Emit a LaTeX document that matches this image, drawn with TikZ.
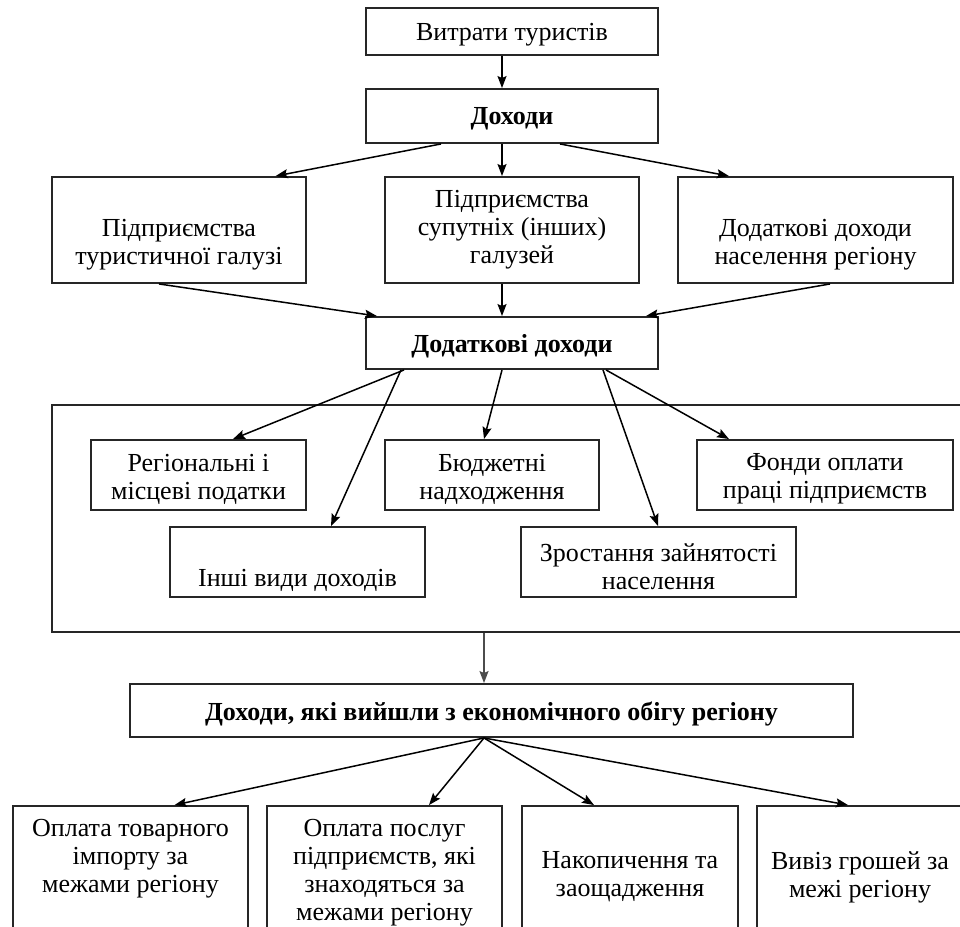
\documentclass[tikz,border=0pt]{standalone}
\usepackage{fontspec}
\setmainfont{Liberation Serif}
\usetikzlibrary{arrows.meta}
\begin{document}
\begin{tikzpicture}[x=1pt,y=-1pt,
  box/.style={draw=black!85, line width=1.9pt, inner sep=0pt, fill=none},
  txt/.style={align=center, inner sep=0pt, yshift=-3pt, font=\fontsize{26}{28}\selectfont},
  btxt/.style={txt, font=\fontsize{26}{28}\selectfont\bfseries},
  arr/.style={draw=black, line width=1.5pt, -{Stealth[length=12pt,width=9pt,inset=2pt]}}]
\clip (0,0) rectangle (960,926);
\fill[white] (0,0) rectangle (960,926);
% row 1-2
\node[box, minimum width=292pt, minimum height=47pt] (b1) at (512,31.5) {};
\node[txt] (b1t) at (512,31.5) {Витрати туристів};
\node[box, minimum width=292pt, minimum height=54pt] (b2) at (512,116) {};
\node[btxt] (b2t) at (512,116) {Доходи};
% row 3
\node[box, minimum width=254pt, minimum height=106pt] (r3a) at (179,230) {};
\node[txt] (r3at) at (179,242) {Підприємства\\туристичної галузі};
\node[box, minimum width=254pt, minimum height=106pt] (r3b) at (512,230) {};
\node[txt] (r3bt) at (512,227) {Підприємства\\супутніх (інших)\\галузей};
\node[box, minimum width=275pt, minimum height=106pt] (r3c) at (815.5,230) {};
\node[txt] (r3ct) at (815.5,242) {Додаткові доходи\\населення регіону};
% row 4
\node[box, minimum width=292pt, minimum height=52pt] (b4) at (512,343) {};
\node[btxt] (b4t) at (512,343) {Додаткові доходи};
% outer frame
\node[box, minimum width=923pt, minimum height=227pt] (outer) at (513.5,518.5) {};
\node[box, minimum width=215pt, minimum height=70pt] (reg) at (198.5,475) {};
\node[txt] (regt) at (198.5,476) {Регіональні і\\місцеві податки};
\node[box, minimum width=214pt, minimum height=70pt] (bud) at (492,475) {};
\node[txt] (budt) at (492,476) {Бюджетні\\надходження};
\node[box, minimum width=256pt, minimum height=70pt] (fon) at (825,475) {};
\node[txt] (font) at (825,476) {Фонди оплати\\праці підприємств};
\node[box, minimum width=255pt, minimum height=70pt] (inshi) at (297.5,562) {};
\node[txt] (inshit) at (297.5,577) {Інші види доходів};
\node[box, minimum width=275pt, minimum height=70pt] (zro) at (658.5,562) {};
\node[txt] (zrot) at (658.5,564) {Зростання зайнятості\\населення};
% row 5
\node[box, minimum width=723pt, minimum height=53pt] (b5) at (491.5,710.5) {};
\node[btxt] (b5t) at (491.5,710.5) {Доходи, які вийшли з економічного обігу регіону};
% bottom row
\node[box, minimum width=235pt, minimum height=160pt] (ba) at (130.5,886) {};
\node[txt, anchor=north] (bat) at (130.5,816) {Оплата товарного\\імпорту за\\межами регіону};
\node[box, minimum width=235pt, minimum height=160pt] (bb) at (384.5,886) {};
\node[txt, anchor=north] (bbt) at (384.5,816) {Оплата послуг\\підприємств, які\\знаходяться за\\межами регіону};
\node[box, minimum width=216pt, minimum height=160pt] (bc) at (630,886) {};
\node[txt] (bct) at (630,874) {Накопичення та\\заощадження};
\node[box, minimum width=228pt, minimum height=160pt] (bd) at (871,886) {};
\node[txt] (bdt) at (860,874) {Вивіз грошей за\\межі регіону};
% arrows
\draw[arr] ([xshift=-10pt]b1.south) -- ([xshift=-10pt]b2.north);
\draw[arr] ([xshift=-71pt]b2.south) -- ([xshift=96.6pt]r3a.north);
\draw[arr] ([xshift=-10pt]b2.south) -- ([xshift=-10pt]r3b.north);
\draw[arr] ([xshift=48pt]b2.south) -- ([xshift=-86.5pt]r3c.north);
\draw[arr] ([xshift=-20pt]r3a.south) -- ([xshift=-135pt]b4.north);
\draw[arr] ([xshift=-10pt]r3b.south) -- ([xshift=-10pt]b4.north);
\draw[arr] ([xshift=14.5pt]r3c.south) -- ([xshift=134pt]b4.north);
\draw[arr] ([xshift=-108pt]b4.south) -- ([xshift=34.5pt]reg.north);
\draw[arr] ([xshift=-111pt]b4.south) -- ([xshift=33.5pt]inshi.north);
\draw[arr] ([xshift=-10pt]b4.south) -- ([xshift=-8pt]bud.north);
\draw[arr] ([xshift=91pt]b4.south) -- ([xshift=-0.5pt]zro.north);
\draw[arr] ([xshift=94pt]b4.south) -- ([xshift=-96pt]fon.north);
\draw[arr, draw=black!70] ([xshift=-29.5pt]outer.south) -- ([xshift=-7.5pt]b5.north);
\draw[arr] ([xshift=-7.5pt]b5.south) -- ([xshift=44pt]ba.north);
\draw[arr] ([xshift=-7.5pt]b5.south) -- ([xshift=44.5pt]bb.north);
\draw[arr] ([xshift=-7.5pt]b5.south) -- ([xshift=-36pt]bc.north);
\draw[arr] ([xshift=-7.5pt]b5.south) -- ([xshift=-23pt]bd.north);
\end{tikzpicture}
\end{document}
